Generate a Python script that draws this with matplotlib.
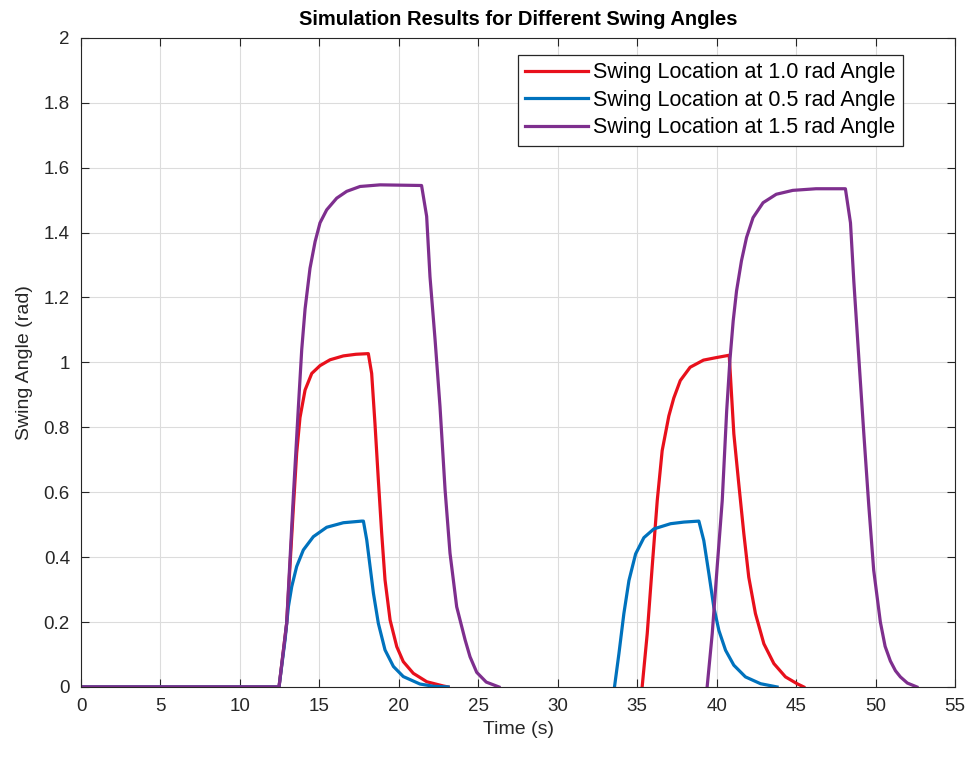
import numpy as np
import matplotlib
matplotlib.use("Agg")
import matplotlib.pyplot as plt

plt.rcParams['font.family'] = ['Liberation Sans', 'DejaVu Sans']

# values (NaN = gap between the two pulses)
t_red = [0, 12.46, 12.94, 13.36, 13.57, 13.78, 14.1, 14.52, 15.04, 15.67, 16.51,
         17.3, 18.08, 18.29, 18.5, 18.71, 18.92, 19.13, 19.45, 19.87, 20.28,
         20.91, 21.76, 22.8, 23.1, np.nan,
         35.31, 35.63, 35.94, 36.26, 36.57, 36.99, 37.3, 37.71, 38.33, 39.17,
         40.0, 40.79, 41.08, 41.39, 41.71, 42.02, 42.44, 42.97, 43.6, 44.33,
         45.06, 45.48]
y_red = [0, 0, 0.196, 0.55, 0.72, 0.83, 0.915, 0.966, 0.99, 1.008, 1.02,
         1.025, 1.027, 0.966, 0.81, 0.638, 0.474, 0.33, 0.206, 0.124, 0.078,
         0.042, 0.016, 0.003, 0, np.nan,
         0, 0.164, 0.369, 0.574, 0.728, 0.835, 0.89, 0.944, 0.985, 1.007,
         1.015, 1.022, 0.78, 0.626, 0.472, 0.338, 0.226, 0.133, 0.072, 0.031,
         0.01, 0]

t_blue = [0, 12.46, 12.84, 13.05, 13.26, 13.57, 13.99, 14.62, 15.46, 16.51,
          17.66, 17.77, 17.98, 18.19, 18.4, 18.71, 19.13, 19.66, 20.28, 21.33,
          22.2, 23.1, np.nan,
          33.57, 33.85, 34.16, 34.48, 34.9, 35.42, 36.05, 37.1, 37.94, 38.88,
          39.19, 39.51, 39.82, 40.14, 40.56, 41.08, 41.81, 42.76, 43.8]
y_blue = [0, 0, 0.145, 0.247, 0.309, 0.371, 0.422, 0.463, 0.492, 0.506,
          0.511, 0.511, 0.453, 0.371, 0.289, 0.196, 0.114, 0.063, 0.032, 0.009,
          0.002, 0, np.nan,
          0, 0.103, 0.226, 0.328, 0.41, 0.46, 0.487, 0.503, 0.508, 0.511,
          0.451, 0.349, 0.246, 0.174, 0.113, 0.067, 0.031, 0.010, 0]

t_purple = [0, 12.46, 12.94, 13.36, 13.68, 13.89, 14.1, 14.41, 14.73, 15.04,
            15.46, 16.09, 16.72, 17.56, 18.82, 21.43, 21.75, 21.96, 22.28,
            22.59, 22.91, 23.22, 23.64, 24.17, 24.48, 24.9, 25.5, 26.3, np.nan,
            39.4, 39.72, 40.03, 40.35, 40.63, 40.83, 41.04, 41.25, 41.56, 41.88,
            42.29, 42.92, 43.75, 44.79, 46.25, 48.1, 48.42, 48.63, 48.95,
            49.26, 49.57, 49.88, 50.3, 50.6, 50.93, 51.25, 51.56, 52.0, 52.6]
y_purple = [0, 0, 0.196, 0.586, 0.864, 1.04, 1.165, 1.29, 1.372, 1.43,
            1.47, 1.506, 1.527, 1.542, 1.547, 1.545, 1.45, 1.264, 1.07,
            0.864, 0.607, 0.412, 0.247, 0.145, 0.093, 0.045, 0.015, 0, np.nan,
            0, 0.164, 0.369, 0.574, 0.851, 1.005, 1.128, 1.22, 1.313, 1.385,
            1.446, 1.492, 1.518, 1.53, 1.535, 1.535, 1.43, 1.25, 1.01,
            0.78, 0.56, 0.36, 0.2, 0.125, 0.08, 0.05, 0.031, 0.012, 0]

labels = ['Swing Location at 1.0 rad Angle',
          'Swing Location at 0.5 rad Angle',
          'Swing Location at 1.5 rad Angle']
colors = ['#e8101c', '#0072BD', '#7E2F8E']

fig = plt.figure(figsize=(9.69, 7.61), dpi=100)
ax = fig.add_axes([0.0836, 0.0973, 0.902, 0.853])

ax.plot(t_red, y_red, color=colors[0], lw=2.3, label=labels[0])
ax.plot(t_blue, y_blue, color=colors[1], lw=2.3, label=labels[1])
ax.plot(t_purple, y_purple, color=colors[2], lw=2.3, label=labels[2])

ax.set_xlim(0, 55)
ax.set_ylim(0, 2)
ax.set_xticks(np.arange(0, 56, 5))
ax.set_yticks(np.arange(0, 2.01, 0.2))
ax.set_yticklabels(['0', '0.2', '0.4', '0.6', '0.8', '1', '1.2', '1.4', '1.6', '1.8', '2'])
ax.grid(True, color='#dcdcdc', lw=0.8)
ax.set_axisbelow(True)
ax.tick_params(direction='in', top=True, right=True, labelsize=13.5, colors='#262626',
               length=6, pad=8)
for s in ax.spines.values():
    s.set_color('#262626')

ax.set_xlabel('Time (s)', fontsize=14, color='#262626', labelpad=4)
ax.set_ylabel('Swing Angle (rad)', fontsize=14, color='#262626', labelpad=8)
ax.set_title('Simulation Results for Different Swing Angles', fontsize=14.5,
             fontweight='bold', pad=9)

leg = ax.legend(loc='upper right', bbox_to_anchor=(0.9405, 0.9738), fontsize=15.5,
                fancybox=False, edgecolor='#262626', handlelength=2.9,
                handletextpad=0.25, borderaxespad=0, labelspacing=0.3,
                borderpad=0.35, framealpha=1)
leg.get_frame().set_linewidth(0.9)

fig.savefig('out.png', dpi=100)
